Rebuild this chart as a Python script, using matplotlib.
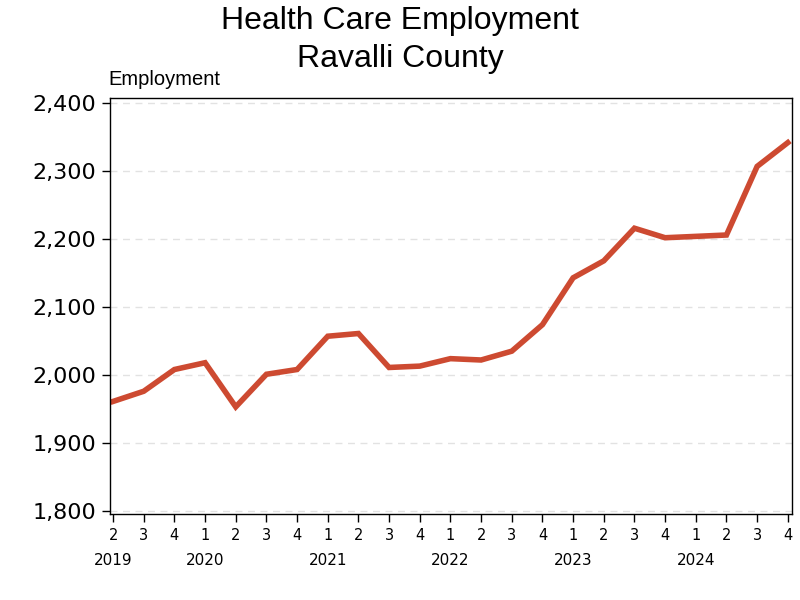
import matplotlib
matplotlib.use('Agg')
import matplotlib.pyplot as plt

# quarterly health care employment, Ravalli County
quarters = [2, 3, 4, 1, 2, 3, 4, 1, 2, 3, 4, 1, 2, 3, 4, 1, 2, 3, 4, 1, 2, 3, 4]
years = [2019, 2019, 2019, 2020, 2020, 2020, 2020, 2021, 2021, 2021, 2021,
         2022, 2022, 2022, 2022, 2023, 2023, 2023, 2023, 2024, 2024, 2024, 2024]
employment = [1961, 1976, 2008, 2018, 1953, 2001, 2008, 2057, 2061, 2011, 2013,
              2024, 2022, 2035, 2074, 2143, 2168, 2216, 2202, 2204, 2206, 2307, 2342]

line_color = '#CD4A31'

fig = plt.figure(figsize=(8, 6), dpi=100)
ax = fig.add_axes([0.1375, 0.143, 0.853, 0.694])

x = list(range(len(employment)))
ax.plot(x, employment, color=line_color, linewidth=4, solid_joinstyle='miter')

ax.set_ylim(1795, 2408)
ax.set_xlim(-0.1, len(x) - 0.85)
ax.set_yticks([1800, 1900, 2000, 2100, 2200, 2300, 2400])
ax.set_yticklabels(['{:,}'.format(v) for v in ax.get_yticks().astype(int)],
                   fontsize=16, family='DejaVu Sans')
ax.set_xticks(x)
ax.set_xticklabels([str(q) for q in quarters], fontsize=10.5, family='DejaVu Sans')
ax.tick_params(axis='both', length=6, width=1, pad=4)

# grid
for v in [1800, 1900, 2000, 2100, 2200, 2300, 2400]:
    ax.axhline(v, color='#e2e2e2', linestyle=(0, (5, 4)), linewidth=1, zorder=0)

# year labels under the first quarter shown for each year
seen = []
for i in range(len(x)):
    if years[i] not in seen:
        seen.append(years[i])
        ax.text(x[i], 1795 - 613 * 0.112, str(years[i]), ha='center', va='center',
                fontsize=11, family='DejaVu Sans')

for s in ax.spines.values():
    s.set_linewidth(1)

fig.text(0.5, 0.965, 'Health Care Employment', ha='center', va='center',
         fontsize=23, family='Liberation Sans')
fig.text(0.5, 0.902, 'Ravalli County', ha='center', va='center',
         fontsize=23, family='Liberation Sans')
fig.text(0.1355, 0.868, 'Employment', ha='left', va='center',
         fontsize=14.5, family='Liberation Sans')

fig.savefig('out.png', dpi=100)
